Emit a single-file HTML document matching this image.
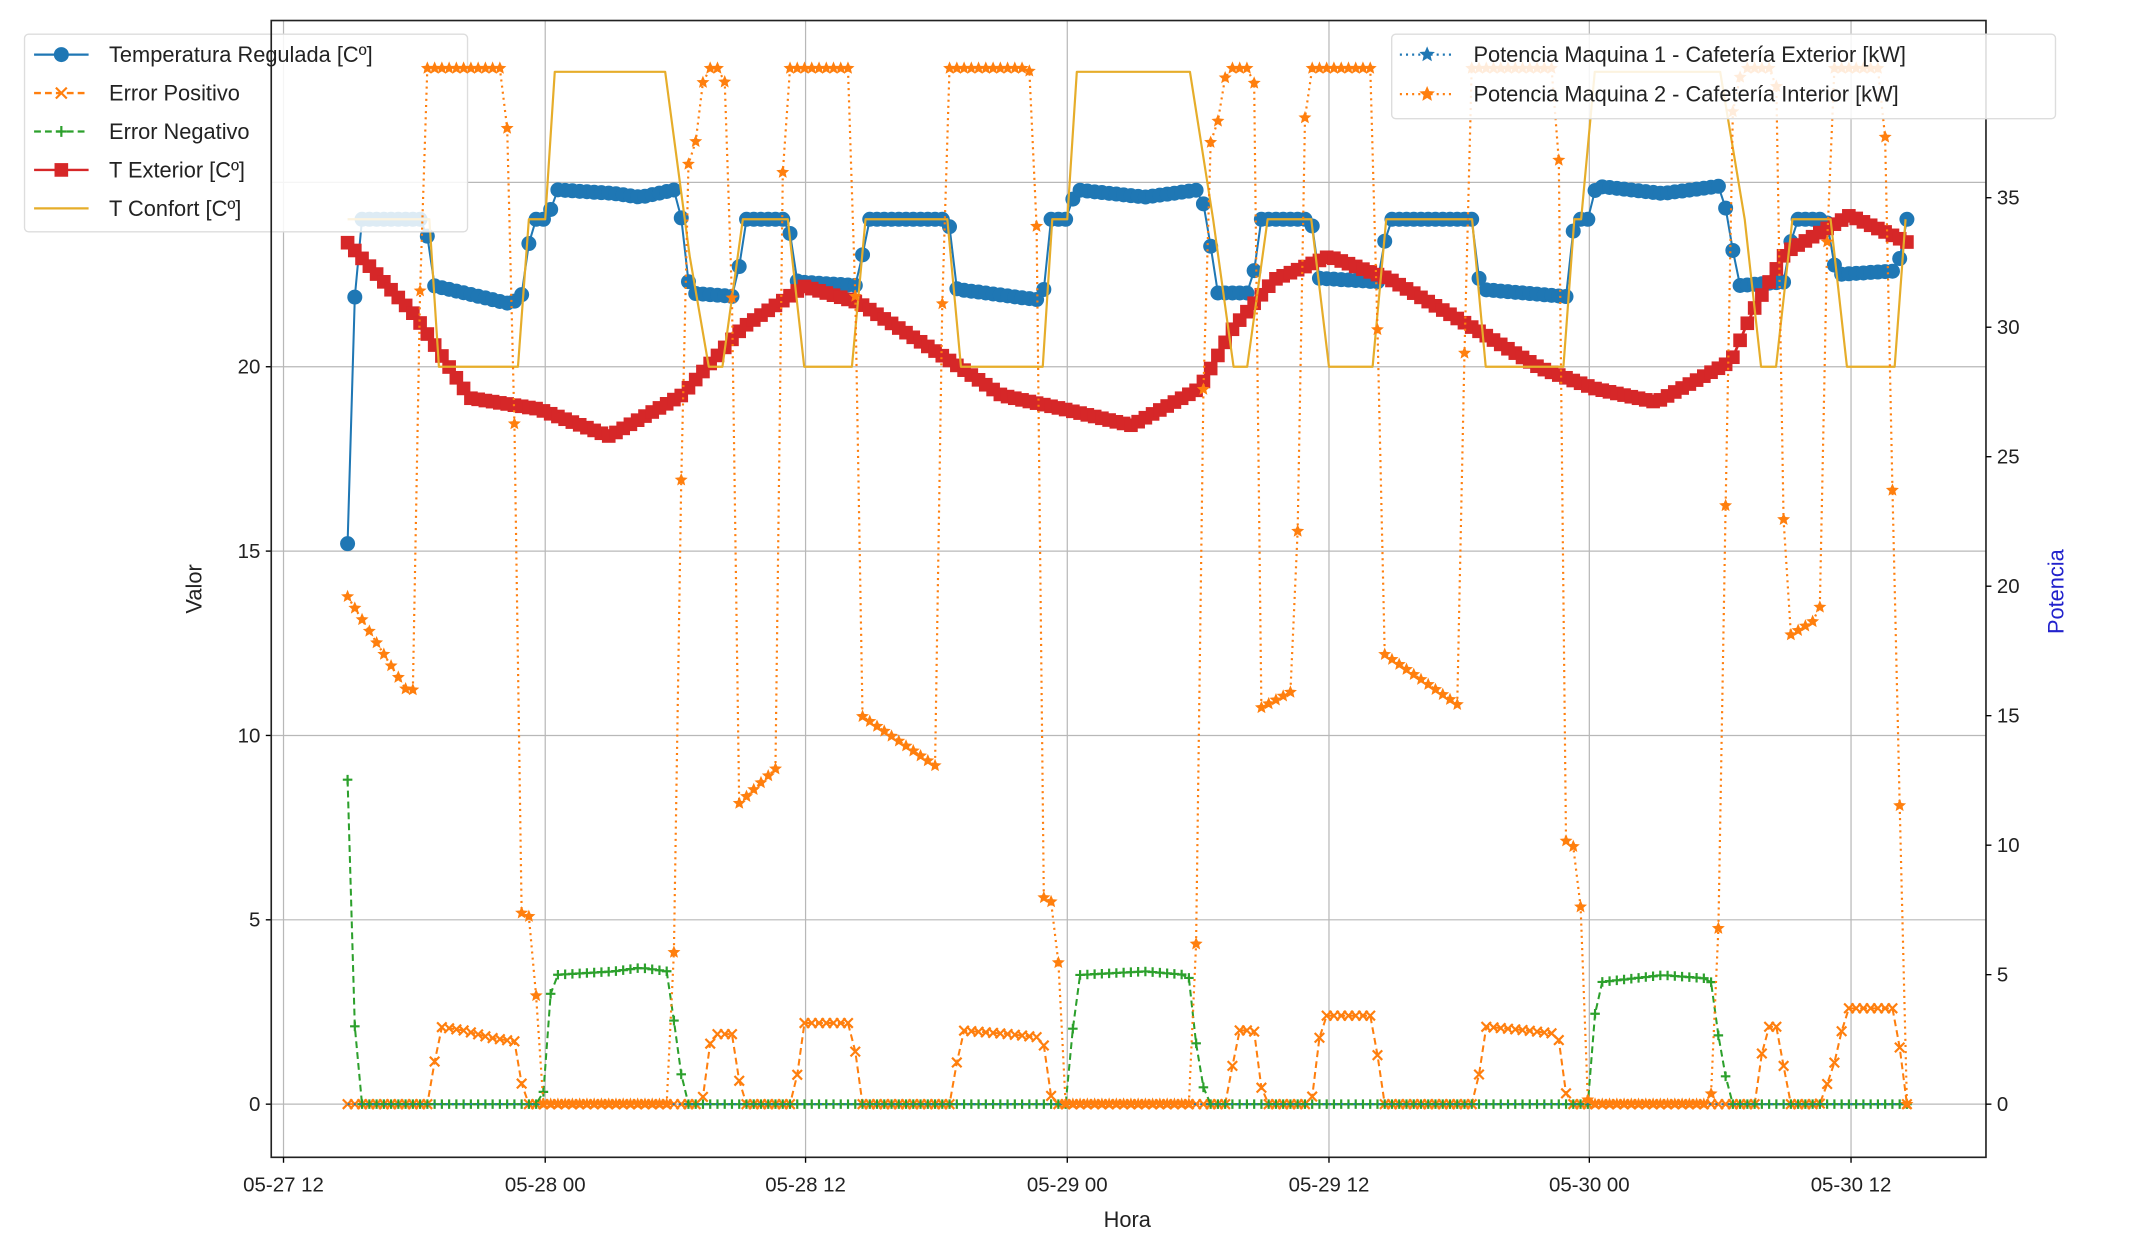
<!DOCTYPE html>
<html><head><meta charset="utf-8"><style>
html,body{margin:0;padding:0;background:#fff;}
svg{display:block;font-family:"Liberation Sans","DejaVu Sans",sans-serif;}
</style></head><body>
<svg id="s" xmlns="http://www.w3.org/2000/svg" width="2140" height="1246" viewBox="0 0 1570 914"></svg>
<script>
const S=document.getElementById('s');
let o='';
const L=199,R=1457,T=15,B=849;
const yl=v=>810-v*27.05, yr=v=>810-v*19;
const xt=[['05-27 12',208],['05-28 00',400],['05-28 12',591],['05-29 00',783],['05-29 12',975],['05-30 00',1166],['05-30 12',1358]];
o+=`<rect x="0" y="0" width="1570" height="914" fill="#fff"/>`;
xt.forEach(t=>{o+=`<line x1="${t[1]}" y1="${T}" x2="${t[1]}" y2="${B}" stroke="#b8b8b8" stroke-width="0.9"/>`;});
[0,5,10,15,20,25].forEach(v=>{o+=`<line x1="${L}" y1="${yl(v)}" x2="${R}" y2="${yl(v)}" stroke="#b8b8b8" stroke-width="0.9"/>`;});
const N=216, xs=[];for(let i=0;i<N;i++)xs.push(255+i*(1144/(N-1)));
function interp(k,x){if(x<=k[0][0])return k[0][1];for(let i=1;i<k.length;i++){if(x<=k[i][0]){const a=k[i-1],b=k[i];return a[1]+(b[1]-a[1])*(x-a[0])/(b[0]-a[0]);}}return k[k.length-1][1];}
function samp(k,f){return xs.map(x=>[x,f(interp(k,x))]);}
function pl(p,c,w,dash){return `<polyline points="${p.map(q=>q[0].toFixed(1)+','+q[1].toFixed(1)).join(' ')}" fill="none" stroke="${c}" stroke-width="${w}" ${dash?'stroke-dasharray="'+dash+'"':''} stroke-linejoin="round"/>`;}
function star(x,y,r,c){let p=[];for(let i=0;i<10;i++){const a=-Math.PI/2+i*Math.PI/5,rr=i%2?r*0.45:r;p.push((x+rr*Math.cos(a)).toFixed(1)+','+(y+rr*Math.sin(a)).toFixed(1));}return `<polygon points="${p.join(' ')}" fill="${c}"/>`;}
function xm(x,y,r,c){return `<path d="M${x-r},${y-r}L${x+r},${y+r}M${x-r},${y+r}L${x+r},${y-r}" stroke="${c}" stroke-width="1.6"/>`;}
function pm(x,y,r,c){return `<path d="M${x-r},${y}L${x+r},${y}M${x},${y-r}L${x},${y+r}" stroke="${c}" stroke-width="1.6"/>`;}
const C0='#1f77b4',C1='#ff7f0e',C2='#2ca02c',C3='#d62728',C4='#e6ad2a';
const kb=[[255,15.2],[262,24],[312,24],[318,22.2],[375,21.7],[384,22],[390,24],[402,24],[408,24.8],[450,24.7],[470,24.6],[495,24.8],[500,24],[506,22],[540,21.9],[546,24],[578,24],[585,22.3],[630,22.2],[636,24],[696,24],[702,22.1],[765,21.8],[771,24],[783,24],[789,24.8],[840,24.6],[880,24.8],[886,24],[892,22],[918,22],[925,24],[962,24],[968,22.4],[1012,22.3],[1018,24],[1080,24],[1086,22.1],[1150,21.9],[1155,24],[1165,24],[1171,24.9],[1220,24.7],[1262,24.9],[1268,24],[1275,22.2],[1310,22.3],[1316,24],[1340,24],[1347,22.5],[1392,22.6],[1399,24]];
const pb=samp(kb,yl);
o+=pl(pb,C0,1.5);pb.forEach(q=>{o+=`<circle cx="${q[0].toFixed(1)}" cy="${q[1].toFixed(1)}" r="5.5" fill="${C0}"/>`;});
const kp=[[255,0],[315,0],[322,2.1],[340,2.0],[360,1.8],[378,1.7],[385,0],[515,0],[522,1.9],[537,1.9],[545,0],[582,0],[590,2.2],[625,2.2],[632,0],[698,0],[705,2.0],[740,1.9],[765,1.8],[772,0],[900,0],[908,2.0],[920,2.0],[927,0],[962,0],[970,2.4],[1007,2.4],[1015,0],[1082,0],[1090,2.1],[1120,2.0],[1143,1.9],[1150,0],[1288,0],[1295,2.1],[1305,2.1],[1312,0],[1335,0],[1345,1.0],[1355,2.6],[1390,2.6],[1399,0]];
const pp=samp(kp,yl);
o+=pl(pp,C1,1.5,'5,3');pp.forEach(q=>{o+=xm(q[0],q[1],3.5,C1);});
const kn=[[255,8.8],[262,0],[398,0],[405,3.5],[450,3.6],[470,3.7],[490,3.6],[497,1.5],[503,0],[783,0],[790,3.5],[840,3.6],[872,3.5],[878,1.5],[885,0],[1165,0],[1172,3.3],[1220,3.5],[1255,3.4],[1262,1.5],[1270,0],[1399,0]];
const pn=samp(kn,yl);
o+=pl(pn,C2,1.5,'5,3');pn.forEach(q=>{o+=pm(q[0],q[1],3.5,C2);});
const kr=[[255,178],[305,232],[330,270],[345,292],[395,300],[447,320],[500,290],[545,240],[590,210],[630,222],[690,260],[735,290],[780,300],[830,312],[880,285],[905,240],[935,205],[975,188],[1020,205],[1080,240],[1130,270],[1170,285],[1215,295],[1270,265],[1285,230],[1310,185],[1357,158],[1400,178]];
const pr=samp(kr,y=>y);
o+=pl(pr,C3,2);pr.forEach(q=>{o+=`<rect x="${(q[0]-5).toFixed(1)}" y="${(q[1]-5).toFixed(1)}" width="10" height="10" fill="${C3}"/>`;});
const kc=[[255,24],[315,24],[322,20],[380,20],[388,24],[400,24],[407,28],[488,28],[506,23],[520,20],[530,20],[545,24],[578,24],[590,20],[625,20],[635,24],[695,24],[705,20],[765,20],[772,24],[783,24],[790,28],[873,28],[890,24],[905,20],[915,20],[930,24],[962,24],[975,20],[1007,20],[1017,24],[1080,24],[1090,20],[1147,20],[1155,24],[1160,24],[1170,28],[1262,28],[1280,24],[1292,20],[1303,20],[1315,24],[1343,24],[1355,20],[1390,20],[1398,24]];
o+=pl(kc.map(q=>[q[0],yl(q[1])]),C4,1.6);
[0,5,10,15,20].forEach(v=>{o+=`<line x1="${L-4}" y1="${yl(v)}" x2="${L}" y2="${yl(v)}" stroke="#000"/><text x="${L-8}" y="${yl(v)+5}" font-size="15" text-anchor="end" fill="#222">${v}</text>`;});
o+=`<rect x="18" y="25" width="325" height="145" rx="3" fill="#fff" fill-opacity="0.85" stroke="#ddd"/>`;
const lg=[['Temperatura Regulada [Cº]',C0,'c',''],['Error Positivo',C1,'x','5,3'],['Error Negativo',C2,'p','5,3'],['T Exterior [Cº]',C3,'s',''],['T Confort [Cº]',C4,'n','']];
lg.forEach((e,i)=>{const y=40+i*28.2;o+=`<line x1="25" y1="${y}" x2="65" y2="${y}" stroke="${e[1]}" stroke-width="1.7" ${e[3]?'stroke-dasharray="'+e[3]+'"':''}/>`;
 if(e[2]=='c')o+=`<circle cx="45" cy="${y}" r="5.5" fill="${e[1]}"/>`;if(e[2]=='x')o+=xm(45,y,4,e[1]);if(e[2]=='p')o+=pm(45,y,4,e[1]);if(e[2]=='s')o+=`<rect x="40" y="${y-5}" width="10" height="10" fill="${e[1]}"/>`;
 o+=`<text x="80" y="${y+5.5}" font-size="16" fill="#222">${e[0]}</text>`;});
o+=pl(xs.map(x=>[x,yr(0)]),C0,1.4,'1.5,3');
const km=[[255,19.6],[298,16],[305,16],[310,40],[368,40],[375,36],[382,7.4],[390,7.2],[398,0],[490,0],[495,6.6],[503,36],[510,37],[517,40],[528,40],[535,39],[542,11.6],[570,13],[575,40],[625,40],[632,15],[688,13],[693,40],[755,40],[760,36.7],[765,8],[775,7.7],[780,0],[873,0],[878,6.8],[885,36.7],[893,37.8],[900,40],[920,40],[925,15.3],[950,16],[958,40],[1007,40],[1015,17.4],[1070,15.4],[1078,40],[1143,40],[1148,10.2],[1158,9.8],[1165,0],[1255,0],[1262,8.4],[1270,38],[1278,40],[1303,40],[1310,18],[1335,18.8],[1343,40],[1382,40],[1390,19.5],[1399,0]];
const pm2=samp(km,yr);
o+=pl(pm2,C1,1.6,'1.5,3');pm2.forEach(q=>{o+=star(q[0],q[1],5,C1);});
o+=`<rect x="${L}" y="${T}" width="${R-L}" height="${B-T}" fill="none" stroke="#222" stroke-width="1.2"/>`;
[0,5,10,15,20,25,30,35].forEach(v=>{o+=`<line x1="${R}" y1="${yr(v)}" x2="${R+4}" y2="${yr(v)}" stroke="#000"/><text x="${R+8}" y="${yr(v)+5}" font-size="15" fill="#222">${v}</text>`;});
xt.forEach(t=>{o+=`<line x1="${t[1]}" y1="${B}" x2="${t[1]}" y2="${B+4}" stroke="#000"/><text x="${t[1]}" y="${B+25}" font-size="15" text-anchor="middle" fill="#222">${t[0]}</text>`;});
o+=`<text x="827" y="900" font-size="16" text-anchor="middle" fill="#222">Hora</text>`;
o+=`<text transform="translate(148,432) rotate(-90)" font-size="16" text-anchor="middle" fill="#222">Valor</text>`;
o+=`<text transform="translate(1514,434) rotate(-90)" font-size="16" text-anchor="middle" fill="#2222cc">Potencia</text>`;
o+=`<rect x="1021" y="25" width="487" height="62" rx="3" fill="#fff" fill-opacity="0.85" stroke="#ddd"/>`;
[['Potencia Maquina 1 - Cafetería Exterior [kW]',C0],['Potencia Maquina 2 - Cafetería Interior [kW]',C1]].forEach((e,i)=>{const y=40+i*29;o+=`<line x1="1027" y1="${y}" x2="1067" y2="${y}" stroke="${e[1]}" stroke-width="1.6" stroke-dasharray="1.5,3"/>`+star(1047,y,6,e[1])+`<text x="1081" y="${y+5.5}" font-size="16" fill="#222">${e[0]}</text>`;});
S.innerHTML=o;
</script>
</body></html>
